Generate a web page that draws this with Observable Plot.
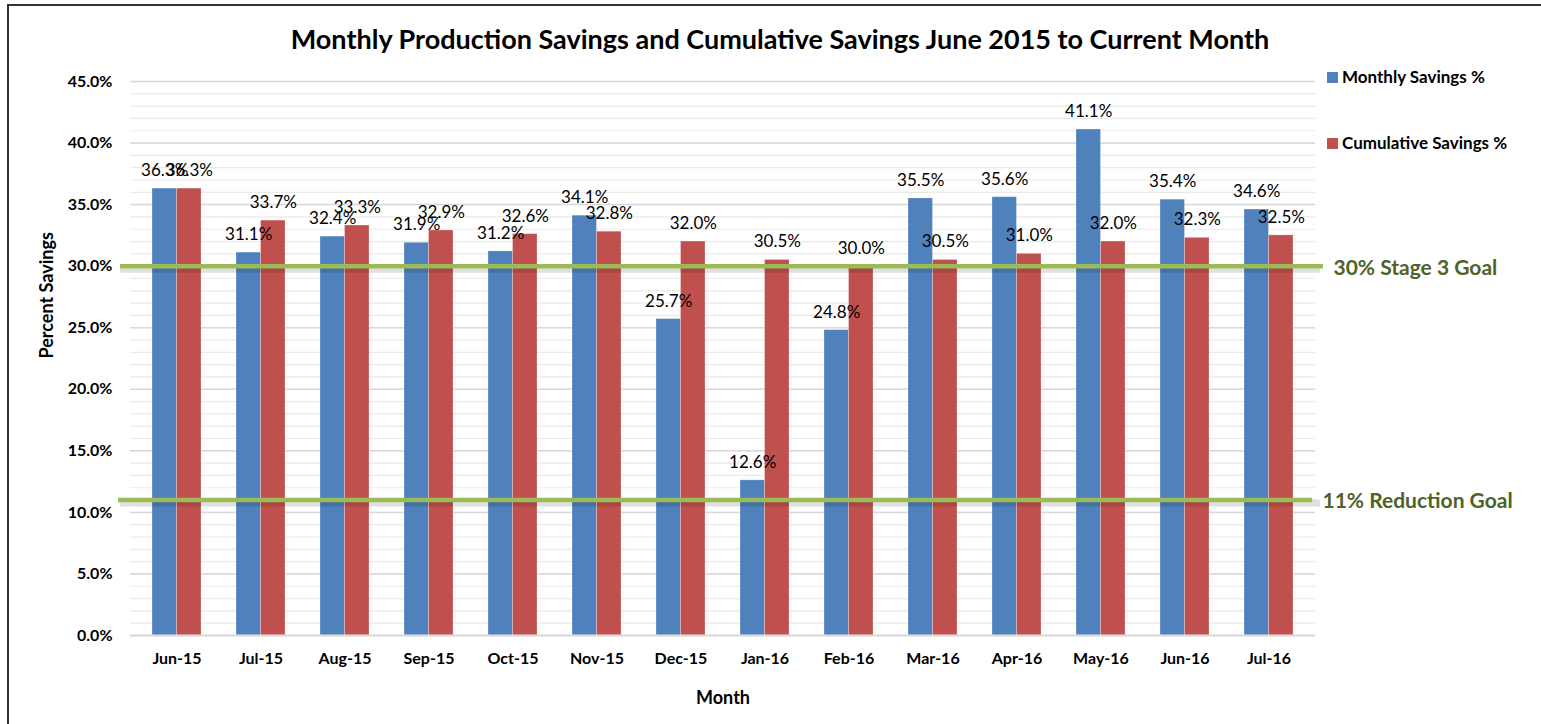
<!DOCTYPE html>
<html>
<head>
<meta charset="utf-8">
<script src="https://cdn.jsdelivr.net/npm/d3@7"></script>
<script src="https://cdn.jsdelivr.net/npm/@observablehq/plot@0.6"></script>
<style>
  html, body { margin: 0; padding: 0; background: #fff; }
  #wrap { position: relative; width: 1541px; height: 724px; overflow: hidden; font-family: Lato, "Open Sans", sans-serif; }
  #frame { position: absolute; left: 7px; top: 4px; width: 1600px; height: 800px; border-top: 2px solid #333; border-left: 2px solid #333; box-sizing: border-box; }
  #title { position: absolute; left: 0; width: 1560px; top: 22px; text-align: center; font-weight: 700; font-size: 27px; line-height: 34px; color: #000; }
  .leg { position: absolute; left: 1327px; font-weight: 700; font-size: 17px; line-height: 20px; color: #000; white-space: nowrap; display: flex; align-items: center; }
  .sw { width: 11px; height: 11px; margin-right: 4px; display: inline-block; }
  #chart { position: absolute; left: 0; top: 0; }
</style>
</head>
<body>
<div id="wrap">
  <div id="frame"></div>
  <div id="chart"></div>
  <div id="title"></div>
  <div id="legend"></div>
</div>
<script>
const months = ["Jun-15","Jul-15","Aug-15","Sep-15","Oct-15","Nov-15","Dec-15","Jan-16","Feb-16","Mar-16","Apr-16","May-16","Jun-16","Jul-16"];
const monthly = [36.3, 31.1, 32.4, 31.9, 31.2, 34.1, 25.7, 12.6, 24.8, 35.5, 35.6, 41.1, 35.4, 34.6];
const cumulative = [36.3, 33.7, 33.3, 32.9, 32.6, 32.8, 32.0, 30.5, 30.0, 30.5, 31.0, 32.0, 32.3, 32.5];
const seriesNames = ["Monthly Savings %", "Cumulative Savings %"];
const seriesColors = ["#4f81bd", "#c0504d"];
const goals = [30, 11];
const goalLabels = ["30% Stage 3 Goal", "11% Reduction Goal"];
const yTicks = [0, 5, 10, 15, 20, 25, 30, 35, 40, 45];
const titleText = "Monthly Production Savings and Cumulative Savings June 2015 to Current Month";
const xTitle = "Month";
const yTitle = "Percent Savings";

const data = months.map((m, i) => ({month: m, monthly: monthly[i], cumulative: cumulative[i]}));

const W = 1541, H = 724, ml = 130, mr = 226, mt = 81, mb = 89;
const pInner = 0.42;
const step = (W - ml - mr) / months.length;
const bw = step * (1 - pInner);
const half = bw / 2;
const fmt = d => d.toFixed(1) + "%";

const chart = Plot.plot({
  width: W,
  height: H,
  marginLeft: ml,
  marginRight: mr,
  marginTop: mt,
  marginBottom: mb,
  style: {fontFamily: "Lato, 'Open Sans', sans-serif", fontWeight: "bold", fontSize: "16px", color: "#000", background: "transparent", overflow: "visible"},
  x: {domain: months, paddingInner: pInner, paddingOuter: pInner / 2, tickSize: 0, tickPadding: 17, label: null},
  y: {domain: [0, 45], ticks: yTicks, tickFormat: fmt, tickSize: 0, tickPadding: 18, label: null},
  marks: [
    Plot.ruleY(d3.range(0, 46, 1), {stroke: "#eaeaea", strokeWidth: 1.2}),
    Plot.ruleY(yTicks, {stroke: "#d9d9d9", strokeWidth: 1.5}),
    Plot.barY(data, {x: "month", y: "monthly", fill: seriesColors[0], insetRight: half, stroke: "#ffffff", strokeOpacity: 0.35, strokeWidth: 0.7}),
    Plot.barY(data, {x: "month", y: "cumulative", fill: seriesColors[1], insetLeft: half, stroke: "#ffffff", strokeOpacity: 0.35, strokeWidth: 0.7}),
    Plot.ruleY([0], {stroke: "#d9d9d9", strokeWidth: 2}),
    Plot.ruleY(goals, {stroke: "#000", strokeOpacity: 0.12, strokeWidth: 7, dy: 3, insetLeft: -10, insetRight: -5}),
    Plot.ruleY([goals[0]], {stroke: "#9bbb59", strokeWidth: 4.5, insetLeft: -10, insetRight: -8}),
    Plot.ruleY([goals[1]], {stroke: "#9bbb59", strokeWidth: 4.5, insetLeft: -12, insetRight: 3}),
    Plot.text(data, {x: "month", y: "monthly", text: d => fmt(d.monthly), dx: -half / 2, dy: -18, fontWeight: "normal", fontSize: 17, fill: "#000"}),
    Plot.text(data, {x: "month", y: "cumulative", text: d => fmt(d.cumulative), dx: half / 2, dy: -18, fontWeight: "normal", fontSize: 17, fill: "#000"}),
    Plot.text([goalLabels[0]], {y: [goals[0]], frameAnchor: "right", textAnchor: "start", dx: 18, dy: 2, fontSize: 21, fontWeight: "bold", fill: "#4f6228"}),
    Plot.text([goalLabels[1]], {y: [goals[1]], frameAnchor: "right", textAnchor: "start", dx: 7, dy: 1, fontSize: 21, fontWeight: "bold", fill: "#4f6228"}),
    Plot.text([xTitle], {frameAnchor: "bottom", dy: 68, fontSize: 18, fontWeight: "bold", fill: "#000"}),
    Plot.text([yTitle], {frameAnchor: "left", dx: -83, rotate: -90, fontSize: 18, fontWeight: "bold", fill: "#000"})
  ]
});
document.getElementById("chart").appendChild(chart);
document.getElementById("title").textContent = titleText;

const legendTops = [67, 133];
const legend = document.getElementById("legend");
seriesNames.forEach((name, i) => {
  const div = document.createElement("div");
  div.className = "leg";
  div.style.top = legendTops[i] + "px";
  const sw = document.createElement("span");
  sw.className = "sw";
  sw.style.background = seriesColors[i];
  div.appendChild(sw);
  div.appendChild(document.createTextNode(name));
  legend.appendChild(div);
});
</script>
</body>
</html>
